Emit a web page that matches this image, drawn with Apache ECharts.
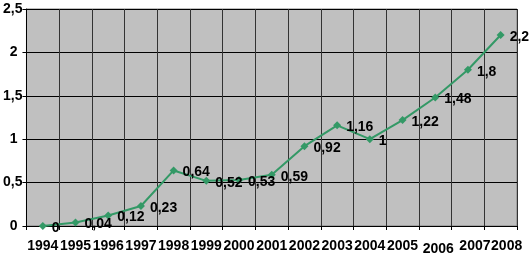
<!DOCTYPE html>
<html>
<head>
<meta charset="utf-8">
<script src="https://cdn.jsdelivr.net/npm/echarts@6/dist/echarts.min.js"></script>
<style>html,body{margin:0;padding:0;background:#fff;}#c{width:530px;height:273px;}</style>
</head>
<body>
<div id="c"></div>
<script>
var years = ['1994','1995','1996','1997','1998','1999','2000','2001','2002','2003','2004','2005','2006','2007','2008'];
var values = [0, 0.04, 0.12, 0.23, 0.64, 0.52, 0.53, 0.59, 0.92, 1.16, 1, 1.22, 1.48, 1.8, 2.2];
var yTicks = [0, 0.5, 1, 1.5, 2, 2.5];

var chart = echarts.init(document.getElementById('c'), null, {renderer: 'canvas'});
var fontFam = '"Liberation Sans", Arial, sans-serif';
var FS = 14;
function fmt(v){ return String(v).replace('.', ','); }
chart.setOption({
  animation: false,
  backgroundColor: '#ffffff',
  grid: {left: 26, right: 13, top: 9, bottom: 47, show: true, backgroundColor: '#C0C0C0', borderColor: '#808080', borderWidth: 1},
  xAxis: {
    type: 'category',
    data: years,
    boundaryGap: true,
    axisLine: {show: true, lineStyle: {color: '#000', width: 1}},
    axisTick: {show: true, length: 4, lineStyle: {color: '#000'}},
    splitLine: {show: true, lineStyle: {color: '#333', width: 1}},
    axisLabel: {
      interval: 0, margin: 13,
      fontFamily: fontFam, fontWeight: 'bold', fontSize: FS, color: '#000',
      formatter: function(v){
        if (v === '2006') return '{d|' + v + '}';
        if (v === '2007') return '{e|' + v + '}';
        if (v === '2008') return '{f|' + v + '}';
        return '{a|' + v + '}';
      },
      rich: {
        a: {fontFamily: fontFam, fontWeight: 'bold', fontSize: FS, color: '#000'},
        d: {fontFamily: fontFam, fontWeight: 'bold', fontSize: FS, color: '#000', padding: [3,0,0,6]},
        e: {fontFamily: fontFam, fontWeight: 'bold', fontSize: FS, color: '#000', padding: [0,0,0,14]},
        f: {fontFamily: fontFam, fontWeight: 'bold', fontSize: FS, color: '#000', padding: [0,0,0,12]}
      }
    }
  },
  yAxis: {
    type: 'value',
    min: 0, max: 2.5, interval: 0.5,
    axisLine: {show: true, lineStyle: {color: '#000', width: 1}},
    axisTick: {show: true, length: 4, lineStyle: {color: '#000'}},
    splitLine: {show: true, lineStyle: {color: '#000', width: 1}},
    axisLabel: {
      margin: 4,
      fontFamily: fontFam, fontWeight: 'bold', fontSize: FS, color: '#000',
      formatter: function(v){
        var s = fmt(v);
        return s.indexOf(',') >= 0 ? '{a|' + s + '}' : '{b|' + s + '}';
      },
      rich: {
        a: {fontFamily: fontFam, fontWeight: 'bold', fontSize: FS, color: '#000'},
        b: {fontFamily: fontFam, fontWeight: 'bold', fontSize: FS, color: '#000', padding: [0,5,0,0]}
      }
    }
  },
  series: [{
    type: 'line',
    data: values,
    symbol: 'diamond',
    symbolSize: 8,
    lineStyle: {color: '#339966', width: 2},
    itemStyle: {color: '#339966'},
    label: {
      show: true, position: 'right', distance: 5, offset: [0, 2],
      fontFamily: fontFam, fontWeight: 'bold', fontSize: FS, color: '#000',
      formatter: function(p){ return fmt(p.value); }
    }
  }]
});
</script>
</body>
</html>
